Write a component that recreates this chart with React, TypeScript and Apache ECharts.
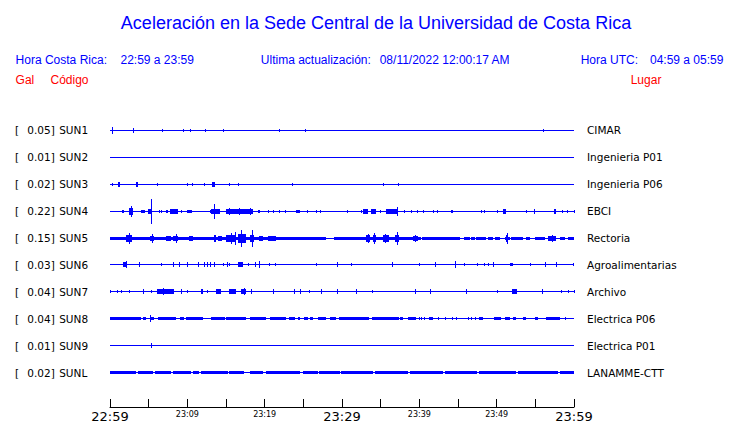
import React, { useEffect, useRef } from "react";
import * as echarts from "echarts";

// ---- Data ----
const stationCodes = ["SUN1", "SUN2", "SUN3", "SUN4", "SUN5", "SUN6", "SUN7", "SUN8", "SUN9", "SUNL"];
const stationScales = ["0.05", "0.01", "0.02", "0.22", "0.15", "0.03", "0.04", "0.04", "0.01", "0.02"];
const stationPlaces = [
  "CIMAR", "Ingenieria P01", "Ingenieria P06", "EBCI", "Rectoria",
  "Agroalimentarias", "Archivo", "Electrica P06", "Electrica P01", "LANAMME-CTT",
];
// minutes after 22:59, one tick every 5 minutes
const timeTickLabels = ["22:59", "", "23:09", "", "23:19", "", "23:29", "", "23:39", "", "23:49", "", "23:59"];
const majorTimeLabels = ["22:59", "23:29", "23:59"];
const windowMinutes = 60;

const titleText = "Aceleración en la Sede Central de la Universidad de Costa Rica";
const infoTexts = ["Hora Costa Rica:", "22:59 a 23:59", "Ultima actualización:", "08/11/2022 12:00:17 AM", "Hora UTC:", "04:59 a 05:59"];
const headerTexts = ["Gal", "Código", "Lugar"];

// Bursts per station: [start minute, end minute, half amplitude (fraction of row spacing)]
const sun1Bursts = [
  [0.2, 0.4, 0.11], [2.95, 3.1, 0.07], [6.7, 6.7, 0.03], [9.4, 9.4, 0.04], [10.3, 10.3, 0.05],
  [12.3, 12.3, 0.04], [14.6, 14.6, 0.04], [21.9, 21.9, 0.04], [25.2, 25.2, 0.03], [56.0, 56.0, 0.05],
];
const sun2Bursts: number[][] = [];
const sun3Bursts = [
  [0.32, 0.32, 0.04], [1.0, 1.3, 0.07], [3.35, 3.65, 0.07], [6.05, 6.05, 0.04], [9.98, 9.98, 0.05],
  [10.58, 10.58, 0.05], [12.18, 12.18, 0.04], [13.16, 13.59, 0.06], [15.41, 15.41, 0.04],
  [16.58, 16.58, 0.05], [23.47, 23.47, 0.04], [35.24, 35.24, 0.05], [37.18, 37.18, 0.05],
];
const sun4Bursts = [
  [1.49, 1.84, 0.04], [2.52, 2.95, 0.11], [2.7, 2.7, 0.17], [3.98, 4.55, 0.05], [4.89, 5.46, 0.09],
  [5.28, 5.28, 0.46], [6.31, 6.31, 0.04], [6.57, 6.57, 0.04], [7.27, 7.53, 0.05], [7.79, 8.77, 0.06],
  [9.21, 9.21, 0.04], [9.98, 10.58, 0.05], [12.87, 12.87, 0.04], [13.0, 14.25, 0.07],
  [13.42, 13.42, 0.26], [15.03, 15.8, 0.09], [15.4, 15.4, 0.13], [15.8, 18.47, 0.06],
  [16.7, 16.7, 0.11], [18.04, 18.04, 0.11], [19.11, 19.42, 0.05], [20.41, 20.41, 0.04],
  [21.05, 21.05, 0.04], [21.83, 21.83, 0.04], [22.57, 22.57, 0.04], [24.08, 24.51, 0.05],
  [25.45, 25.45, 0.04], [26.58, 26.7, 0.05], [27.18, 27.18, 0.04], [30.67, 30.67, 0.04],
  [32.49, 32.49, 0.04], [32.78, 33.34, 0.07], [33.69, 34.34, 0.07], [34.85, 34.85, 0.04],
  [35.63, 36.24, 0.07], [36.24, 37.27, 0.09], [37.09, 37.09, 0.15], [38.08, 38.08, 0.04],
  [38.86, 38.86, 0.04], [39.68, 39.68, 0.04], [40.45, 40.45, 0.04], [41.74, 41.74, 0.04],
  [42.31, 42.31, 0.04], [44.12, 44.33, 0.05], [47.91, 47.91, 0.04], [48.34, 48.34, 0.04],
  [50.02, 50.02, 0.04], [50.8, 51.24, 0.07], [53.82, 53.82, 0.04], [54.77, 55.02, 0.06],
  [57.35, 57.7, 0.07], [58.43, 58.43, 0.04], [59.12, 59.12, 0.04], [59.94, 59.94, 0.04],
];
const sun5Bursts = [
  [0, 27.9, 0.045], [29.0, 40.2, 0.045], [40.4, 45.2, 0.045], [45.84, 46.49, 0.045],
  [46.7, 47.14, 0.045], [47.35, 48.64, 0.045], [48.85, 49.49, 0.045], [49.72, 50.37, 0.045],
  [51.02, 51.66, 0.045], [51.88, 53.38, 0.045], [53.82, 54.25, 0.045], [54.9, 56.19, 0.045],
  [56.62, 57.7, 0.07], [58.13, 58.78, 0.045], [59.2, 60, 0.045],
  [2.09, 2.82, 0.11], [2.4, 2.45, 0.19], [5.11, 5.66, 0.09], [5.4, 5.4, 0.15], [7.27, 7.91, 0.09],
  [8.21, 8.77, 0.09], [8.5, 8.5, 0.15], [10.28, 10.71, 0.07], [13.42, 13.73, 0.11],
  [14.03, 14.51, 0.09], [15.03, 16.32, 0.13], [15.6, 15.6, 0.19], [16.15, 16.15, 0.22],
  [16.53, 17.61, 0.15], [16.97, 17.0, 0.3], [18.04, 18.56, 0.11], [18.3, 18.3, 0.31],
  [19.24, 19.76, 0.09], [20.41, 21.49, 0.07], [33.13, 33.56, 0.11], [33.3, 33.3, 0.15],
  [33.98, 34.42, 0.11], [34.2, 34.2, 0.17], [35.28, 36.05, 0.11], [35.6, 35.6, 0.15],
  [36.79, 37.35, 0.13], [37.1, 37.1, 0.21], [39.16, 39.8, 0.09], [39.5, 39.5, 0.11],
  [51.2, 51.4, 0.11], [51.3, 51.3, 0.17], [56.8, 57.5, 0.07], [57.1, 57.1, 0.11],
];
const sun6Bursts = [
  [1.66, 2.17, 0.07], [2.08, 2.08, 0.11], [3.69, 3.8, 0.07], [6.57, 6.57, 0.04], [8.12, 8.3, 0.07],
  [8.86, 8.95, 0.07], [10.02, 10.1, 0.07], [11.44, 11.52, 0.07], [12.13, 12.13, 0.06],
  [12.57, 12.57, 0.06], [12.87, 12.87, 0.06], [13.51, 13.51, 0.06], [14.59, 14.59, 0.04],
  [15.19, 15.28, 0.07], [15.45, 15.45, 0.04], [16.53, 17.17, 0.07], [17.82, 17.82, 0.04],
  [18.69, 18.78, 0.07], [19.24, 19.24, 0.11], [20.54, 20.54, 0.04], [21.31, 21.31, 0.04],
  [26.67, 26.67, 0.04], [29.38, 29.5, 0.07], [31.2, 31.2, 0.04], [36.5, 36.6, 0.06],
  [39.93, 39.93, 0.04], [42.05, 42.15, 0.07], [44.64, 44.64, 0.11], [45.84, 45.84, 0.04],
  [47.49, 47.49, 0.04], [48.34, 48.34, 0.05], [48.86, 48.86, 0.05], [49.47, 49.6, 0.07],
  [51.75, 52.09, 0.05], [54.25, 54.25, 0.04], [56.28, 56.4, 0.07], [57.61, 57.72, 0.07],
  [59.85, 59.85, 0.04],
];
const sun7Bursts = [
  [0.03, 0.03, 0.04], [0.88, 0.88, 0.04], [1.45, 1.45, 0.04], [2.43, 2.43, 0.04], [4.24, 4.35, 0.07],
  [5.33, 5.33, 0.04], [6.05, 8.34, 0.06], [6.83, 6.83, 0.11], [9.21, 9.3, 0.07], [9.93, 9.93, 0.04],
  [11.79, 12.0, 0.07], [12.52, 12.52, 0.04], [13.73, 14.38, 0.06], [15.45, 16.32, 0.06],
  [16.97, 17.61, 0.07], [17.3, 17.3, 0.13], [18.17, 18.26, 0.07], [21.14, 21.22, 0.07],
  [23.73, 23.82, 0.07], [24.51, 24.6, 0.07], [25.71, 25.71, 0.04], [27.31, 27.4, 0.07],
  [29.38, 29.47, 0.07], [31.75, 31.8, 0.06], [33.82, 33.82, 0.05], [39.47, 39.56, 0.07],
  [41.32, 41.41, 0.07], [46.06, 46.15, 0.07], [50.02, 50.02, 0.04], [51.96, 52.61, 0.06],
  [55.84, 55.93, 0.07], [58.35, 58.35, 0.04], [59.2, 59.2, 0.04], [59.94, 59.94, 0.04],
];
const sun8Bursts = [
  [0.03, 4.03, 0.045], [4.24, 4.68, 0.045], [5.2, 5.2, 0.13], [5.33, 5.75, 0.045], [6.18, 8.56, 0.045],
  [8.99, 9.63, 0.045], [9.85, 12.0, 0.045], [13.09, 14.81, 0.045], [15.03, 17.61, 0.045],
  [18.04, 20.2, 0.045], [20.63, 22.79, 0.045], [23.21, 23.86, 0.045], [24.29, 24.51, 0.045],
  [25.15, 25.58, 0.045], [25.8, 26.23, 0.045], [26.87, 27.96, 0.045], [28.39, 29.25, 0.045],
  [29.6, 33.5, 0.045], [33.9, 37.4, 0.045], [37.44, 37.87, 0.045], [38.51, 39.6, 0.045],
  [39.9, 39.9, 0.045], [40.24, 40.24, 0.045], [40.58, 40.58, 0.045], [41.23, 41.74, 0.045],
  [42.39, 42.39, 0.045], [43.35, 43.35, 0.045], [44.25, 44.25, 0.045], [44.77, 44.77, 0.045],
  [46.27, 46.27, 0.045], [46.71, 46.71, 0.045], [47.14, 47.14, 0.045], [47.78, 48.21, 0.045],
  [49.63, 50.37, 0.045], [50.15, 50.59, 0.045], [51.02, 51.66, 0.045], [52.09, 52.53, 0.045],
  [53.38, 53.82, 0.045], [54.9, 55.33, 0.045], [56.41, 58.13, 0.045], [58.78, 58.78, 0.045],
];
const sun9Bursts = [[5.24, 5.24, 0.06]];
const sunlBursts = [
  [0.03, 3.39, 0.05], [3.6, 5.53, 0.05], [5.88, 7.91, 0.05], [8.12, 10.5, 0.05], [10.71, 11.57, 0.05],
  [11.79, 15.23, 0.05], [15.45, 17.39, 0.05], [18.04, 19.76, 0.05], [20.2, 24.51, 0.05],
  [24.93, 26.87, 0.05], [27.09, 29.68, 0.05], [29.9, 34.0, 0.05], [34.3, 38.5, 0.05],
  [38.8, 43.0, 0.05], [43.3, 47.5, 0.05], [47.78, 52.53, 0.05], [52.74, 57.91, 0.05],
  [58.13, 60, 0.05],
];
const stationBursts = [
  sun1Bursts, sun2Bursts, sun3Bursts, sun4Bursts, sun5Bursts,
  sun6Bursts, sun7Bursts, sun8Bursts, sun9Bursts, sunlBursts,
];

const BLUE = "#0000ff";
const RED = "#ff0000";
const SANS = '"Liberation Sans", Arial, sans-serif';
const DEJAVU = '"DejaVu Sans", sans-serif';

export default function App() {
  const ref = useRef<HTMLDivElement>(null);

  useEffect(() => {
    if (!ref.current) return;
    const chart = echarts.init(ref.current, undefined, { renderer: "svg" });

    const traceData: number[][] = [];
    stationCodes.forEach((_, row) => {
      traceData.push([row, 0, windowMinutes, 0]); // baseline
      stationBursts[row].forEach((b) => traceData.push([row, b[0], b[1], b[2]]));
    });

    const txt = (text: string, x: number, y: number, fill: string, size: number, align = "left") => ({
      type: "text",
      x,
      y,
      silent: true,
      style: { text, fill, font: `${size}px ${SANS}`, align, verticalAlign: "middle" },
    });

    chart.setOption({
      animation: false,
      backgroundColor: "#ffffff",
      graphic: [
        txt(titleText, 376, 23, BLUE, 18, "center"),
        txt(infoTexts[0], 15.6, 60, BLUE, 12),
        txt(infoTexts[1], 120.5, 60, BLUE, 12),
        txt(infoTexts[2], 260.8, 60, BLUE, 12),
        txt(infoTexts[3], 379.7, 60, BLUE, 12),
        txt(infoTexts[4], 580.7, 60, BLUE, 12),
        txt(infoTexts[5], 650, 60, BLUE, 12),
        txt(headerTexts[0], 15.6, 80, RED, 12),
        txt(headerTexts[1], 50.5, 80, RED, 12),
        txt(headerTexts[2], 630.7, 80, RED, 12),
      ],
      grid: { left: 110, width: 464, top: 117, height: 270 },
      xAxis: {
        type: "value",
        min: 0,
        max: windowMinutes,
        interval: 5,
        offset: 21,
        axisLine: { show: true, lineStyle: { color: "#000", width: 1 } },
        axisTick: { show: true, inside: true, length: 8, lineStyle: { color: "#000", width: 1 } },
        splitLine: { show: false },
        axisLabel: {
          show: true,
          margin: 3,
          verticalAlign: "top",
          formatter: (v: number) => {
            const lab = timeTickLabels[Math.round(v / 5)] || "";
            if (!lab) return "";
            return majorTimeLabels.includes(lab) ? `{big|${lab}}` : `{small|${lab}}`;
          },
          rich: {
            big: { fontSize: 13, fontFamily: DEJAVU, color: "#000" },
            small: { fontSize: 8, fontFamily: DEJAVU, color: "#000" },
          },
        },
      },
      yAxis: [
        {
          type: "category",
          data: stationCodes,
          inverse: true,
          position: "left",
          boundaryGap: true,
          axisLine: { show: false },
          axisTick: { show: false },
          splitLine: { show: false },
          axisLabel: {
            margin: 95,
            align: "left",
            formatter: (val: string, idx: number) => `{br|[}{v|${stationScales[idx]}]}{n|${val}}`,
            rich: {
              br: { width: 12.3, fontSize: 10.5, fontFamily: DEJAVU, color: "#000" },
              v: { fontSize: 10.5, fontFamily: DEJAVU, color: "#000" },
              n: { fontSize: 10.5, fontFamily: DEJAVU, color: "#000", padding: [0, 0, 0, 4.4] },
            },
          },
        },
        {
          type: "category",
          data: stationPlaces,
          inverse: true,
          position: "right",
          boundaryGap: true,
          axisLine: { show: false },
          axisTick: { show: false },
          splitLine: { show: false },
          axisLabel: {
            margin: 13,
            align: "left",
            fontSize: 10.5,
            fontFamily: DEJAVU,
            color: "#000",
          },
        },
      ],
      series: [
        {
          type: "custom",
          xAxisIndex: 0,
          yAxisIndex: 0,
          silent: true,
          data: traceData,
          encode: { x: [1, 2], y: 0 },
          clip: false,
          renderItem: (_params: any, api: any) => {
            const row = api.value(0);
            const s = api.value(1);
            const e = api.value(2);
            const a = api.value(3);
            const c0 = api.coord([s, row]);
            const c1 = api.coord([e, row]);
            const rowH = api.size([0, 1])[1];
            const h = a * rowH;
            const cy = Math.floor(c0[1]) + 0.5;
            const y0 = Math.round(cy - 0.5 - h);
            const y1 = Math.round(cy + 0.5 + h);
            const x0 = Math.round(c0[0]);
            const x1 = Math.max(x0 + 1, Math.round(c1[0]));
            return {
              type: "rect",
              shape: { x: x0, y: y0, width: x1 - x0, height: y1 - y0 },
              style: { fill: BLUE },
            };
          },
        },
      ],
    });

    return () => chart.dispose();
  }, []);

  return (
    <div
      ref={ref}
      style={{ position: "fixed", left: 0, top: 0, width: 740, height: 423, background: "#fff" }}
    />
  );
}
